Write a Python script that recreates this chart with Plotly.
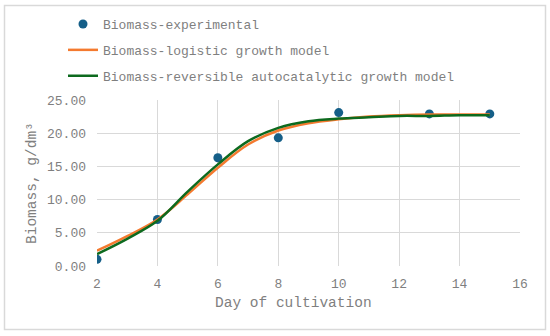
import plotly.graph_objects as go

# Experimental data
exp_days = [2, 4, 6, 8, 10, 13, 15]
exp_biomass = [1.0, 7.0, 16.3, 19.3, 23.1, 22.9, 22.9]

# Model curves
model_days = [2, 3, 4, 5, 6, 7, 8, 9, 10, 11, 12, 13, 14, 15]
logistic = [2.3, 4.5, 7.0, 10.8, 14.8, 18.3, 20.4, 21.5, 22.1, 22.5, 22.7, 22.8, 22.8, 22.8]
autocat = [1.8, 4.1, 6.8, 11.2, 15.3, 18.8, 20.8, 21.8, 22.2, 22.4, 22.6, 22.6, 22.7, 22.7]

y_ticks = [0, 5, 10, 15, 20, 25]
x_ticks = [2, 4, 6, 8, 10, 12, 14, 16]

FONT = "Liberation Mono, Courier New, monospace"
GREY = "#7f7f7f"
GRID = "#d9d9d9"

L, R, T, B = 97, 30, 100, 70
W, H = 550, 336
PW, PH = W - L - R, H - T - B

def px_x(p):
    return (p - L) / PW

def px_y(p):
    return (H - B - p) / PH

fig = go.Figure()
fig.add_trace(go.Scatter(
    x=exp_days, y=exp_biomass, mode="markers", name="Biomass-experimental",
    marker=dict(color="#155f88", size=9), legendgroup="a"))
fig.add_trace(go.Scatter(
    x=model_days, y=logistic, mode="lines", name="Biomass-logistic growth model",
    line=dict(color="#f47a2f", width=2.5, shape="spline"), legendgroup="b"))
fig.add_trace(go.Scatter(
    x=model_days, y=autocat, mode="lines", name="Biomass-reversible autocatalytic growth model",
    line=dict(color="#0d6a1e", width=2.5, shape="spline"), legendgroup="c"))

fig.update_layout(
    width=W, height=H, autosize=False,
    margin=dict(l=L, r=R, t=T, b=B, autoexpand=False),
    paper_bgcolor="white", plot_bgcolor="white",
    font=dict(family=FONT, color=GREY, size=13),
    showlegend=True,
    legend=dict(x=px_x(63), y=px_y(9),
                xanchor="left", yanchor="top", traceorder="grouped",
                tracegroupgap=6, font=dict(family=FONT, size=13, color=GREY),
                bgcolor="rgba(0,0,0,0)"),
    xaxis=dict(range=[2, 16], tickvals=x_ticks, showgrid=True, gridcolor=GRID,
               gridwidth=1, zeroline=False, showline=False, automargin=False,
               ticklabelstandoff=8,
               tickfont=dict(family=FONT, size=13, color=GREY)),
    yaxis=dict(range=[0, 25], tickvals=y_ticks, tickformat=".2f", showgrid=True,
               gridcolor=GRID, gridwidth=1, zeroline=False, showline=False,
               ticklabelstandoff=10, automargin=False,
               tickfont=dict(family=FONT, size=13, color=GREY)),
)

fig.add_annotation(text="Day of cultivation", xref="paper", yref="paper",
                   x=px_x(293), y=px_y(303), showarrow=False,
                   xanchor="center", yanchor="middle",
                   font=dict(family=FONT, size=14.5, color=GREY))
fig.add_annotation(text="Biomass, g/dm³", xref="paper", yref="paper",
                   x=px_x(32), y=0.5, showarrow=False, textangle=-90,
                   xanchor="center", yanchor="middle",
                   font=dict(family=FONT, size=14.5, color=GREY))

fig.add_shape(type="rect", xref="paper", yref="paper",
              x0=px_x(4.5), x1=px_x(545.5), y0=px_y(329.5), y1=px_y(5.5),
              line=dict(color=GRID, width=1.5), fillcolor="rgba(0,0,0,0)", layer="below")

fig.write_html("out.html", config={"displayModeBar": False},
               post_script="document.body.style.margin='0px';document.body.style.overflow='hidden';")
